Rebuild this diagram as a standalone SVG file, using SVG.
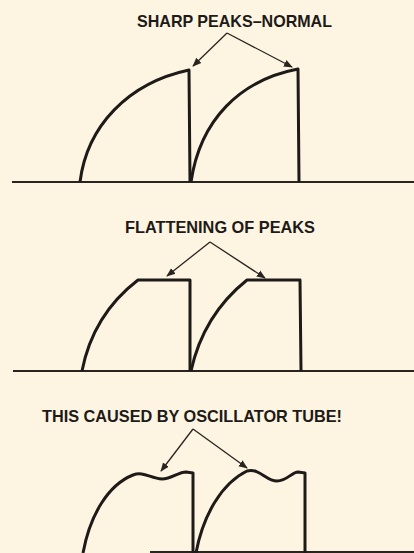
<svg xmlns="http://www.w3.org/2000/svg" width="414" height="553" viewBox="0 0 414 553">
<defs>
<marker id="ah" viewBox="0 0 10 10" refX="9" refY="5" markerWidth="9" markerHeight="9" markerUnits="userSpaceOnUse" orient="auto">
<path d="M0,1 L10,5 L0,9 Z" fill="#2a2420"/>
</marker>
</defs>
<style>
.bg{fill:#fdf5e2}
.lbl{font-family:"Liberation Sans Narrow","Liberation Sans",Arial,sans-serif;font-weight:bold;font-size:17px;fill:#1e1a18}
.wave{fill:none;stroke:#1e1a18;stroke-width:3;stroke-linejoin:round}
.base{fill:none;stroke:#2a2420;stroke-width:1.8}
.arr{fill:none;stroke:#2a2420;stroke-width:1.3;marker-end:url(#ah)}
</style>
<rect class="bg" x="0" y="0" width="414" height="553"/>

<g id="panel1">
<text class="lbl" x="137" y="27" textLength="195" lengthAdjust="spacingAndGlyphs">SHARP PEAKS–NORMAL</text>
<line class="base" x1="12" y1="182" x2="414" y2="182"/>
<path id="wave1a" class="wave" d="M80,182 C87,126 128,83 189,70 L190,182"/>
<path id="wave1b" class="wave" d="M191,182 C200,120 240,80 298,69 L299,182"/>
</g>

<g id="panel2">
<text class="lbl" x="125" y="233" textLength="190" lengthAdjust="spacingAndGlyphs">FLATTENING OF PEAKS</text>
<line class="base" x1="13" y1="371" x2="414" y2="371"/>
<path id="wave2a" class="wave" d="M82,371 C90,330 112,300 138,280 L190,280 L190,371"/>
<path id="wave2b" class="wave" d="M191,371 C200,330 222,300 247,280 L300,280 L301,371"/>
</g>

<g id="panel3">
<text class="lbl" x="42" y="422" textLength="300" lengthAdjust="spacingAndGlyphs">THIS CAUSED BY OSCILLATOR TUBE!</text>
<line class="base" x1="150" y1="552" x2="414" y2="552"/>
<path id="wave3a" class="wave" d="M83,553 C90,515 108,485 133,475 C143,471 150,478 162,479 C172,479 178,472 186,472 L193,473 L193,553"/>
<path id="wave3b" class="wave" d="M196,553 C203,515 222,483 247,471 C260,468 266,481 277,481 C287,481 292,472 298,472 L305,473 L305,553"/>
</g>

<g id="connectors">
<line class="arr" x1="227" y1="33" x2="193" y2="66"/>
<line class="arr" x1="227" y1="33" x2="292" y2="67"/>
<line class="arr" x1="210" y1="242" x2="167" y2="276"/>
<line class="arr" x1="210" y1="242" x2="265" y2="278"/>
<line class="arr" x1="193" y1="429" x2="161" y2="471"/>
<line class="arr" x1="193" y1="429" x2="247" y2="468"/>
</g>
</svg>
